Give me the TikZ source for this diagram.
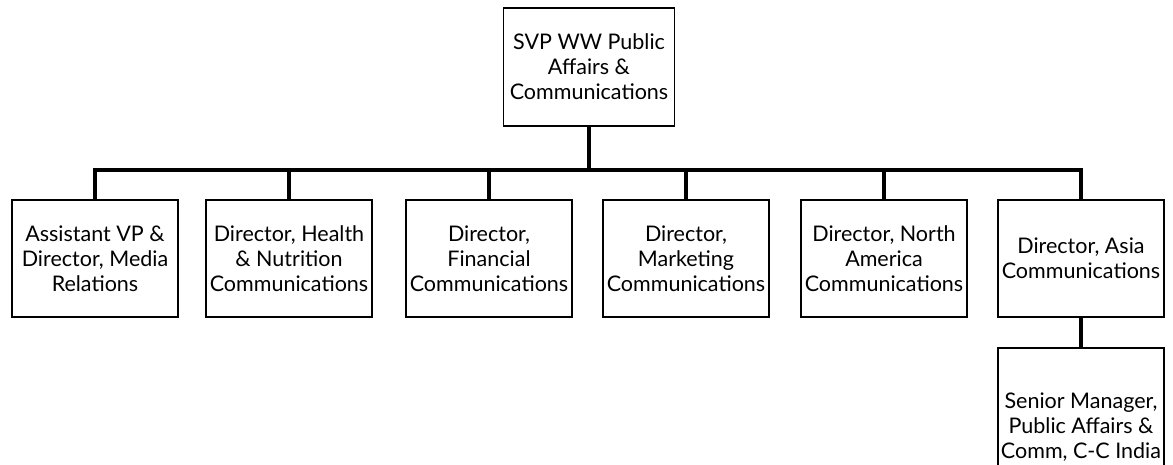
\documentclass[tikz,border=0pt]{standalone}
\usepackage{fontspec}
\setmainfont{Lato}
\usetikzlibrary{positioning, calc}

\begin{document}
\begin{tikzpicture}[x=1pt, y=1pt, font=\fontsize{21.5}{25}\selectfont,
      box/.style={draw, line width=1.6pt, align=center, inner sep=1pt, minimum width=166pt, minimum height=117pt},
      wire/.style={line width=3.2pt}]
    \clip (0,0) rectangle (1173,-464);
    \node[box, minimum width=171pt, minimum height=118pt] (svp) at (589,-67) {SVP WW Public\\Affairs \&\\Communications};
    \node[box] (media)   at (95,-258.5)   {Assistant VP \&\\Director, Media\\Relations};
    \node[box] (health)  at (289,-258.5)  {Director, Health\\\& Nutrition\\Communications};
    \node[box] (finance) at (489,-258.5)  {Director,\\Financial\\Communications};
    \node[box] (market)  at (686,-258.5)  {Director,\\Marketing\\Communications};
    \node[box] (namer)   at (884,-258.5)  {Director, North\\America\\Communications};
    \node[box] (asia)    at (1081,-258.5) {Director, Asia\\Communications};
    \node[box, minimum height=158pt] (india) at (1081,-427) {Senior Manager,\\Public Affairs \&\\Comm, C-C India};
    \coordinate (bus) at (0,-170);
    \draw[wire] (svp.south) -- (svp.south |- bus);
    \draw[wire] (media.north) -- (media.north |- bus) -- (asia.north |- bus) -- (asia.north);
    \foreach \n in {health, finance, market, namer}
      \draw[wire] (\n.north) -- (\n.north |- bus);
    \draw[wire] (asia.south) -- (india.north);
  \end{tikzpicture}
\end{document}
